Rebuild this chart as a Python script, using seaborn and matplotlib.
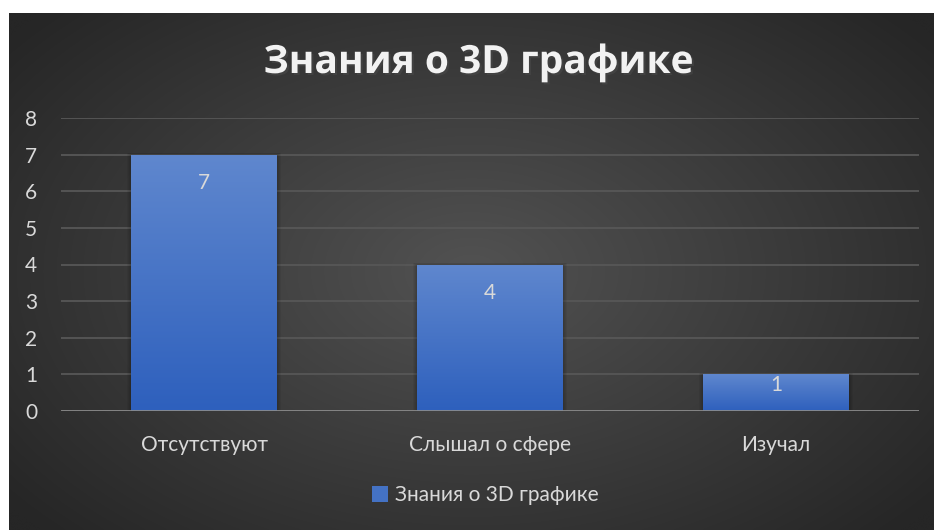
import numpy as np
import pandas as pd
import matplotlib
matplotlib.use('Agg')
import matplotlib.pyplot as plt
import matplotlib.patheffects as pe
from matplotlib.patches import Patch
import seaborn as sns

# data
categories = ['Отсутствуют', 'Слышал о сфере', 'Изучал']
values = [7, 4, 1]
series_name = 'Знания о 3D графике'
title = 'Знания о 3D графике'
y_ticks = [0, 1, 2, 3, 4, 5, 6, 7, 8]

W, H = 934, 530
TXT = '#d9d9d9'

sns.set_theme(style='dark')
plt.rcParams['font.family'] = ['Lato', 'DejaVu Sans']

fig = plt.figure(figsize=(W / 100, H / 100), dpi=100)
fig.patch.set_facecolor('white')

# dark radial background
bg = fig.add_axes([9 / W, 0, (W - 9) / W, (H - 13) / H])
yy, xx = np.mgrid[0:1:300j, 0:1:500j]
r = np.sqrt(((xx - 0.5) / 0.75) ** 2 + ((yy - 0.5) / 0.85) ** 2)
r = np.clip(r / 0.85, 0, 1)
c0 = np.array([0x52, 0x52, 0x52]) / 255
c1 = np.array([0x26, 0x26, 0x26]) / 255
img = c0[None, None, :] * (1 - r[..., None]) + c1[None, None, :] * r[..., None]
bg.imshow(img, aspect='auto', extent=[0, 1, 0, 1], interpolation='bicubic')
bg.set_axis_off()

ax = fig.add_axes([61 / W, (H - 411) / H, 858 / W, 293 / H])
ax.set_facecolor('none')

df = pd.DataFrame({'cat': categories, 'val': values})
sns.barplot(data=df, x='cat', y='val', color='#4472c4', width=0.507,
            saturation=1, linewidth=0, edgecolor='none', ax=ax, zorder=3)

ax.set_ylim(0, 8)
ax.set_xlim(-0.5, 2.5)
ax.set_yticks(y_ticks)
ax.set_xlabel('')
ax.set_ylabel('')
ax.grid(False)
for t in y_ticks[1:]:
    ax.axhline(t, color='#575757', lw=1.3, zorder=1)
ax.axhline(0, color='#8c8c8c', lw=2, zorder=4)
for s in ax.spines.values():
    s.set_visible(False)
ax.tick_params(axis='y', length=0, pad=17, labelsize=15, labelcolor=TXT)
ax.tick_params(axis='x', length=0, pad=17, labelsize=15, labelcolor=TXT)

# gradient fill on bars
grad = np.linspace(0, 1, 100)[:, None]
top = np.array([0x5f, 0x87, 0xce]) / 255
bot = np.array([0x2e, 0x60, 0xbd]) / 255
gimg = top[None, None, :] * (1 - grad[..., None]) + bot[None, None, :] * grad[..., None]
for p, v in zip(ax.patches, values):
    x0, w, h = p.get_x(), p.get_width(), p.get_height()
    for k in range(1, 5):
        d = 0.004 * k
        ax.add_patch(plt.Rectangle((x0 - d, 0), w + 2 * d, h + d * 2.7,
                                   color='black', alpha=0.05, zorder=2, lw=0))
    im = ax.imshow(gimg, extent=[x0, x0 + w, 0, h], aspect='auto', zorder=3)
    im.set_clip_path(p)
    off = min(0.78, v * 0.3)
    ax.text(x0 + w / 2, v - off, str(v), ha='center', va='center',
            fontsize=15, color=TXT, zorder=5)

fig.text(478 / W, 1 - 62 / H, title, ha='center', va='center', fontsize=28,
         fontweight='bold', color='#f2f2f2', family=['Open Sans', 'DejaVu Sans'],
         path_effects=[pe.SimplePatchShadow(offset=(1.5, -1.5), alpha=0.6),
                       pe.Normal()])

leg = fig.legend(handles=[Patch(facecolor='#4472c4', edgecolor='none',
                                label=series_name)],
                 loc='center', bbox_to_anchor=(485 / W, 1 - 495 / H),
                 frameon=False, fontsize=15, handlelength=0.8, handleheight=0.8,
                 handletextpad=0.3)
for t in leg.get_texts():
    t.set_color(TXT)

fig.savefig('out.png', dpi=100)
